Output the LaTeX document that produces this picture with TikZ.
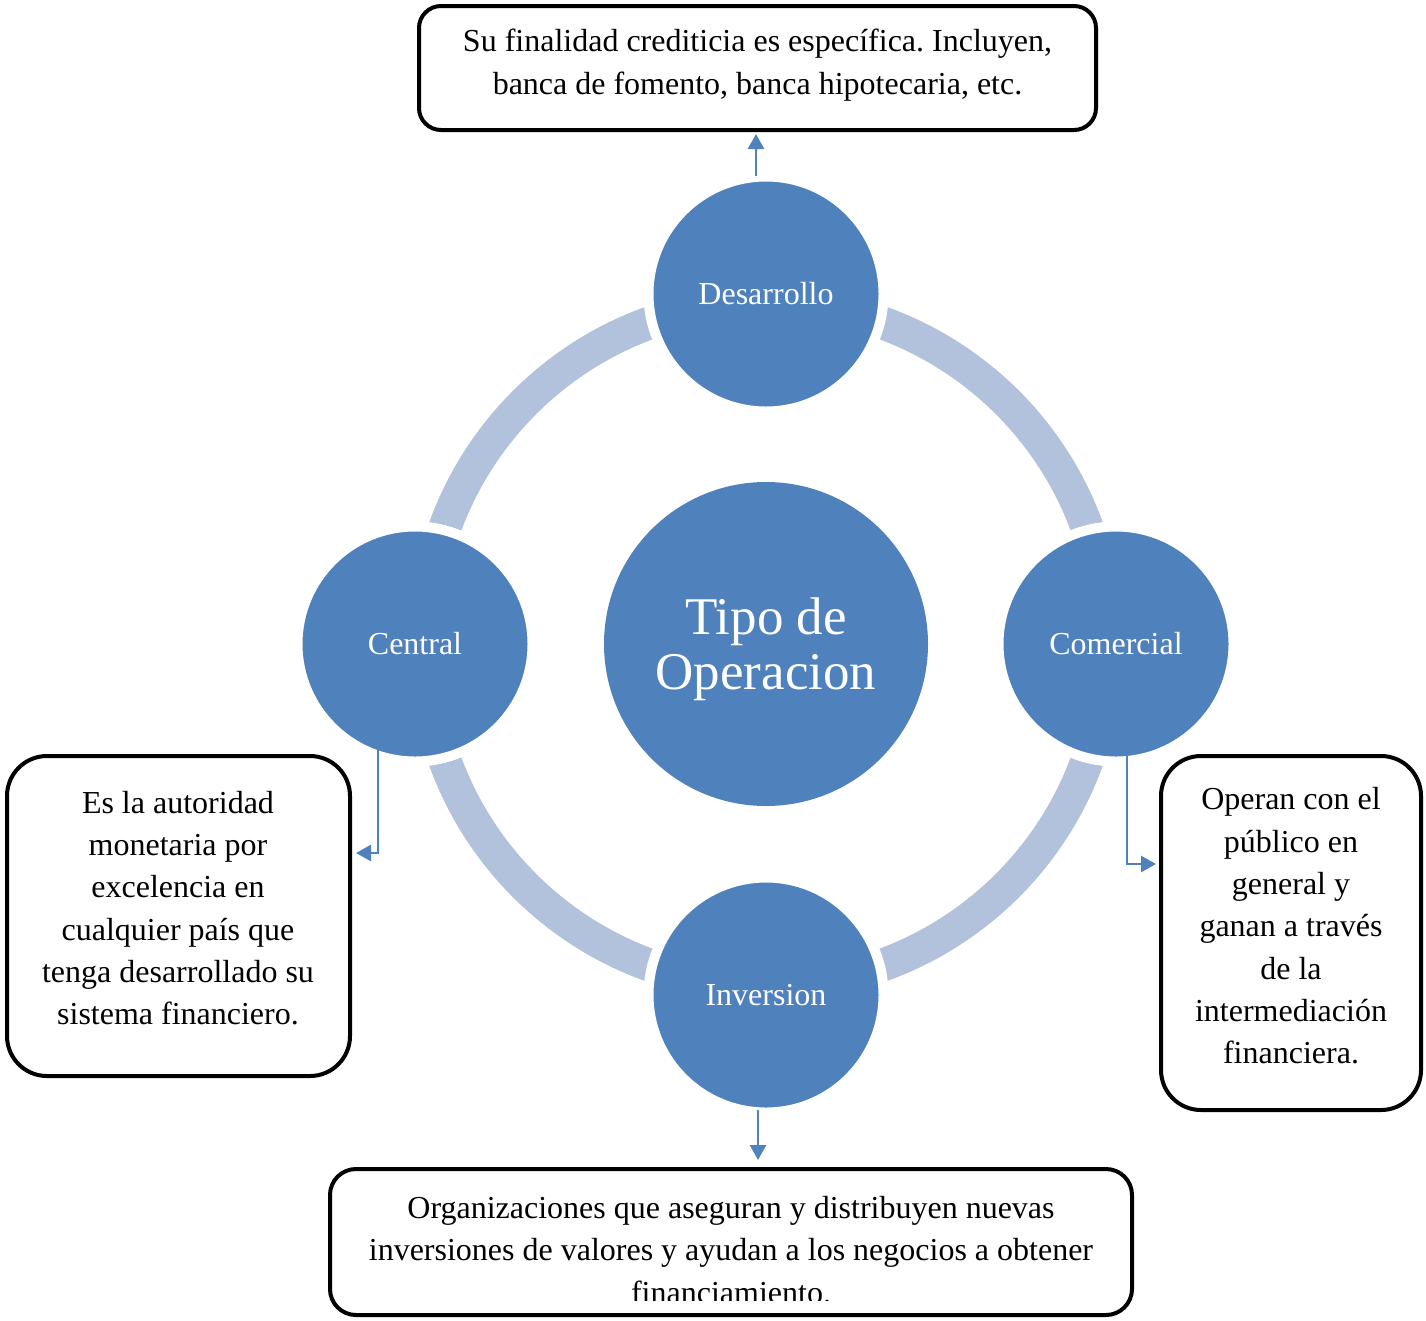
\documentclass[tikz,border=0pt]{standalone}
\usepackage{fontspec}
\setmainfont{Liberation Serif}
\usetikzlibrary{arrows.meta,calc}
\definecolor{cblue}{RGB}{79,129,189}
\definecolor{cband}{RGB}{178,193,220}
\frenchspacing
\begin{document}
\begin{tikzpicture}[x=1pt,y=-1pt,
  sat/.style={circle,fill=cblue,draw=white,line width=10pt,minimum size=235pt,inner sep=0pt,text=white,font=\fontsize{32}{38}\selectfont},
  hub/.style={circle,fill=cblue,minimum size=324pt,inner sep=0pt,text=white,align=center,font=\fontsize{53}{55}\selectfont},
  box/.style={draw=black,line width=4pt,fill=white,inner sep=0pt},
  txt/.style={align=center,inner sep=0pt,font=\fontsize{32}{42.3}\selectfont},
  conn/.style={draw=cblue,line width=2.8pt,-{Triangle[length=15pt,width=16pt]}}]
\useasboundingbox (0,0) rectangle (1426,1320);
% ring
\draw[cband,line width=33pt] (766,644) circle[radius=341.5];
% circles
\node[hub] (hub) at (766,644) {};
\node[text=white,align=center,inner sep=0pt,font=\fontsize{53}{55}\selectfont] (hubtxt) at (766,649) {Tipo de\\Operacion};
\node[sat] (desa) at (766,294) {Desarrollo};
\node[sat] (cent) at (415,644) {Central};
\node[sat] (come) at (1116,644) {Comercial};
\node[sat] (inv) at (766,995) {Inversion};
% boxes
\node[box,rounded corners=22pt,minimum width=677pt,minimum height=124pt] (tbox) at (757.5,68) {};
\node[txt] (ttxt) at (757.5,65) {Su finalidad crediticia es específica. Incluyen,\\banca de fomento, banca hipotecaria, etc.};
\node[box,rounded corners=40pt,minimum width=343pt,minimum height=320pt] (lbox) at (178.5,916) {};
\node[txt] (ltxt) at (178,908) {Es la autoridad\\monetaria por\\excelencia en\\cualquier país que\\tenga desarrollado su\\sistema financiero.};
\node[box,rounded corners=40pt,minimum width=260pt,minimum height=354pt] (rbox) at (1291,933) {};
\node[txt] (rtxt) at (1291,926) {Operan con el\\público en\\general y\\ganan a través\\de la\\intermediación\\financiera.};
\node[box,rounded corners=26pt,minimum width=802pt,minimum height=146pt] (bbox) at (731,1242) {};
\begin{scope}
\clip (0,0) rectangle (1426,1300);
\node[txt] (btxt) at (731,1250) {Organizaciones que aseguran y distribuyen nuevas\\inversiones de valores y ayudan a los negocios a obtener\\financiamiento.};
\end{scope}
% connectors
\coordinate (ds) at ([xshift=-10pt,yshift=-4pt]desa.north);
\coordinate (cs) at ($(cent.center)+(-37,106)$);
\coordinate (ms) at ($(come.center)+(11,112)$);
\coordinate (is) at ($(inv.center)+(-8,115)$);
\draw[conn,shorten >=2pt] (ds) -- (ds |- tbox.south);
\draw[conn,shorten >=4pt] (cs) |- ([yshift=63pt]lbox.east);
\draw[conn,shorten >=3pt] (ms) |- ([yshift=69pt]rbox.west);
\draw[conn,shorten >=7pt] (is) -- (is |- bbox.north);
\end{tikzpicture}
\end{document}
